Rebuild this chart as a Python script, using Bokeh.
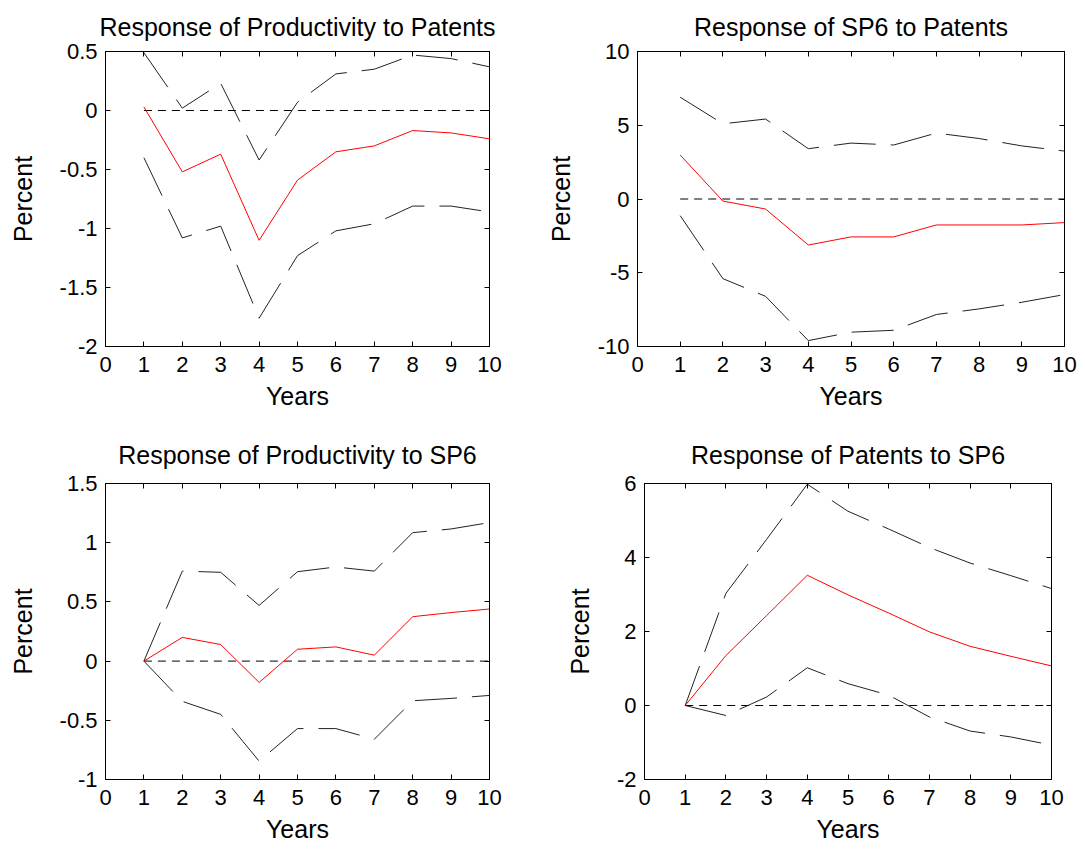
from bokeh.plotting import figure
from bokeh.layouts import column, row
from bokeh.models import Range1d, LinearAxis, FixedTicker
from bokeh.embed import file_html
from bokeh.resources import INLINE

# ---------------- data ----------------
years = [1, 2, 3, 4, 5, 6, 7, 8, 9, 10]
zero_line = [0, 0, 0, 0, 0, 0, 0, 0, 0, 0]
x_ticks = [0, 1, 2, 3, 4, 5, 6, 7, 8, 9, 10]
x_labels = ["0", "1", "2", "3", "4", "5", "6", "7", "8", "9", "10"]

# Response of Productivity to Patents
pp_resp = [0.03, -0.52, -0.37, -1.10, -0.59, -0.35, -0.30, -0.17, -0.19, -0.24]
pp_upper = [0.49, 0.02, 0.23, -0.42, 0.07, 0.31, 0.35, 0.47, 0.44, 0.37]
pp_lower = [-0.40, -1.08, -0.98, -1.76, -1.23, -1.02, -0.96, -0.81, -0.81, -0.86]
pp_yticks = [-2, -1.5, -1, -0.5, 0, 0.5]
pp_ylabels = ["-2", "-1.5", "-1", "-0.5", "0", "0.5"]

# Response of SP6 to Patents
sp_resp = [2.98, -0.14, -0.68, -3.12, -2.57, -2.57, -1.76, -1.76, -1.76, -1.60]
sp_upper = [6.90, 5.10, 5.42, 3.41, 3.79, 3.66, 4.47, 4.10, 3.60, 3.25]
sp_lower = [-1.13, -5.40, -6.60, -9.60, -9.03, -8.90, -7.83, -7.45, -7.00, -6.48]
sp_yticks = [-10, -5, 0, 5, 10]
sp_ylabels = ["-10", "-5", "0", "5", "10"]

# Response of Productivity to SP6
ps_resp = [0.0, 0.20, 0.14, -0.18, 0.10, 0.12, 0.05, 0.375, 0.41, 0.44]
ps_upper = [0.0, 0.76, 0.75, 0.47, 0.755, 0.795, 0.76, 1.085, 1.116, 1.17]
ps_lower = [0.0, -0.34, -0.45, -0.845, -0.57, -0.57, -0.66, -0.335, -0.315, -0.29]
ps_yticks = [-1, -0.5, 0, 0.5, 1, 1.5]
ps_ylabels = ["-1", "-0.5", "0", "0.5", "1", "1.5"]

# Response of Patents to SP6
pa_resp = [0.0, 1.35, 2.43, 3.52, 2.99, 2.50, 1.99, 1.60, 1.33, 1.07]
pa_upper = [0.0, 3.03, 4.49, 5.98, 5.25, 4.77, 4.27, 3.85, 3.51, 3.16]
pa_lower = [0.0, -0.27, 0.23, 1.02, 0.59, 0.28, -0.31, -0.69, -0.85, -1.07]
pa_yticks = [-2, 0, 2, 4, 6]
pa_ylabels = ["-2", "0", "2", "4", "6"]

FONT = "Liberation Sans"


def style_axis(ax, ticks, labels):
    ax.ticker = FixedTicker(ticks=ticks)
    ax.major_label_overrides = {t: l for t, l in zip(ticks, labels)}
    ax.major_tick_in = 5
    ax.major_tick_out = 0
    ax.major_tick_line_color = "black"
    ax.minor_tick_line_color = None
    ax.axis_line_color = "black"
    ax.major_label_text_font = FONT
    ax.major_label_text_color = "black"
    ax.major_label_text_font_size = "22px"


def mirror_axis(ticks):
    # tick marks only (as minor ticks, so that no labels are drawn)
    ax = LinearAxis(ticker=FixedTicker(ticks=[], minor_ticks=ticks))
    ax.minor_tick_in = 5
    ax.minor_tick_out = 0
    ax.major_tick_in = 0
    ax.major_tick_out = 0
    ax.minor_tick_line_color = "black"
    ax.major_tick_line_color = None
    ax.axis_line_color = "black"
    ax.major_label_standoff = 0
    ax.axis_label_standoff = 0
    return ax


def make_panel(title, resp, upper, lower, yticks, ylabels,
               width, height, bl, br, bt, bb, xstand, lstand, tstand):
    p = figure(width=width, height=height,
               x_range=Range1d(x_ticks[0], x_ticks[-1]),
               y_range=Range1d(yticks[0], yticks[-1]),
               output_backend="svg", toolbar_location=None,
               min_border_left=bl, min_border_right=br,
               min_border_top=bt, min_border_bottom=bb)
    p.grid.visible = False
    p.outline_line_color = "black"
    p.background_fill_color = "white"
    p.border_fill_color = "white"

    p.title.text = title
    p.title.align = "center"
    p.title.vertical_align = "top"
    p.title.text_font = FONT
    p.title.text_font_size = "25px"
    p.title.text_font_style = "normal"
    p.title.text_line_height = 1.0
    p.title.text_color = "black"
    p.title.standoff = tstand

    xa = p.xaxis[0]
    style_axis(xa, x_ticks, x_labels)
    xa.major_label_standoff = xstand
    xa.axis_label = "Years"
    xa.axis_label_text_font = FONT
    xa.axis_label_text_font_size = "25px"
    xa.axis_label_text_font_style = "normal"
    xa.axis_label_text_color = "black"
    xa.axis_label_standoff = lstand

    ya = p.yaxis[0]
    style_axis(ya, yticks, ylabels)
    ya.major_label_standoff = 8
    ya.axis_label = "Percent"
    ya.axis_label_text_font = FONT
    ya.axis_label_text_font_size = "25px"
    ya.axis_label_text_font_style = "normal"
    ya.axis_label_text_color = "black"
    ya.axis_label_standoff = 20

    p.add_layout(mirror_axis(x_ticks), "above")
    p.add_layout(mirror_axis(yticks), "right")

    p.line(years, zero_line, line_color="black", line_width=1, line_dash="8 6")
    p.line(years, upper, line_color="#222222", line_width=1, line_dash="42 15")
    p.line(years, lower, line_color="#222222", line_width=1, line_dash="42 15")
    p.line(years, resp, line_color="#ff0000", line_width=1)
    return p


p1 = make_panel("Response of Productivity to Patents", pp_resp, pp_upper, pp_lower,
                pp_yticks, pp_ylabels, 540, 425, 105, 51, 51, 79, 10, 7, 18)
p2 = make_panel("Response of SP6 to Patents", sp_resp, sp_upper, sp_lower,
                sp_yticks, sp_ylabels, 545, 425, 97, 21, 51, 79, 10, 7, 18)
p3 = make_panel("Response of Productivity to SP6", ps_resp, ps_upper, ps_lower,
                ps_yticks, ps_ylabels, 540, 425, 105, 51, 58, 71, 10, 7, 26)
p4 = make_panel("Response of Patents to SP6", pa_resp, pa_upper, pa_lower,
                pa_yticks, pa_ylabels, 545, 425, 104, 34, 57, 69, 10, 7, 26)

layout = column(row(p1, p2), row(p3, p4))
open("out.html", "w").write(file_html(layout, INLINE))
